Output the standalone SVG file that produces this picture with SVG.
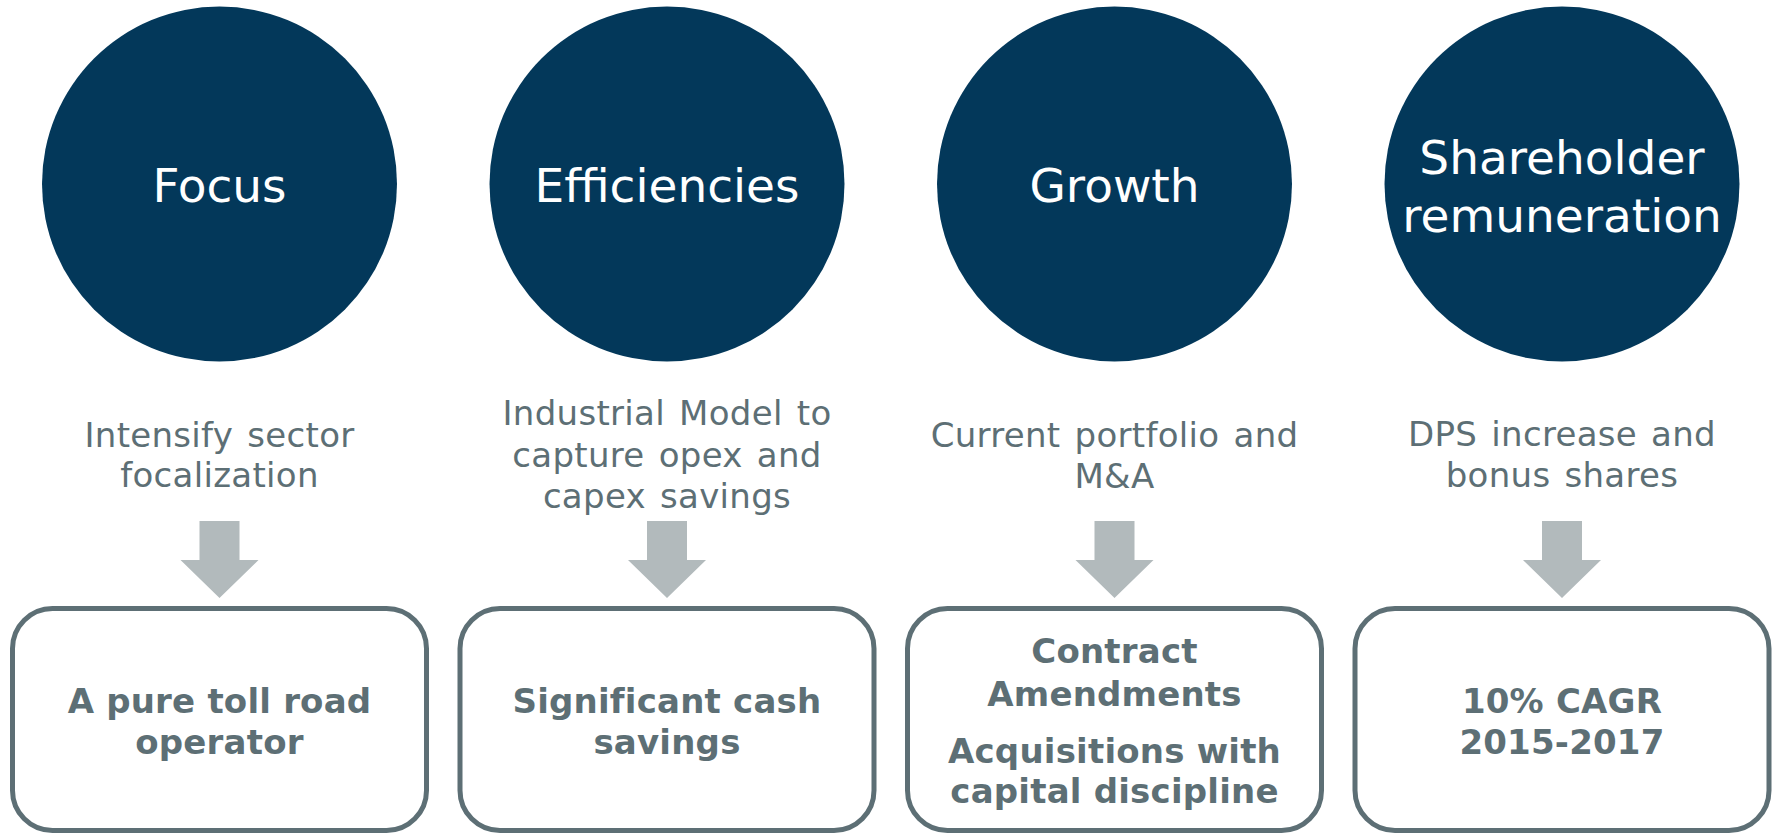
<svg xmlns="http://www.w3.org/2000/svg" width="1775" height="833" viewBox="0 0 1775 833">
  <style>
    .circle { fill: #03385a; }
    .title { font-family: "DejaVu Sans", Verdana, sans-serif; font-size: 47px; fill: #ffffff; text-anchor: middle; }
    .sub { font-family: "DejaVu Sans", Verdana, sans-serif; font-size: 34px; letter-spacing: 0.3px; word-spacing: 3px; fill: #5d6f75; text-anchor: middle; }
    .box { fill: #ffffff; stroke: #5d6f75; stroke-width: 5; }
    .boxtext { font-family: "DejaVu Sans", Verdana, sans-serif; font-size: 34px; font-weight: bold; letter-spacing: 0.2px; fill: #5d6f75; text-anchor: middle; }
    .arrow { fill: #b2babc; }
  </style>

  <rect width="1775" height="833" fill="#ffffff"/>

  <!-- Column 1: Focus -->
  <g id="focus">
    <circle class="circle" cx="219.5" cy="184" r="177.5"/>
    <text class="title" x="219.5" y="202">Focus</text>
    <text class="sub" x="219.5" y="447">Intensify sector</text>
    <text class="sub" x="219.5" y="487">focalization</text>
  </g>
  <g id="focus-result">
    <rect class="box" x="12.5" y="608.5" width="414" height="222" rx="40"/>
    <text class="boxtext" x="219.5" y="713">A pure toll road</text>
    <text class="boxtext" x="219.5" y="754">operator</text>
  </g>

  <!-- Column 2: Efficiencies -->
  <g id="efficiencies">
    <circle class="circle" cx="667" cy="184" r="177.5"/>
    <text class="title" x="667" y="202">Efficiencies</text>
    <text class="sub" x="667" y="425">Industrial Model to</text>
    <text class="sub" x="667" y="467">capture opex and</text>
    <text class="sub" x="667" y="508">capex savings</text>
  </g>
  <g id="efficiencies-result">
    <rect class="box" x="460" y="608.5" width="414" height="222" rx="40"/>
    <text class="boxtext" x="667" y="713">Significant cash</text>
    <text class="boxtext" x="667" y="754">savings</text>
  </g>

  <!-- Column 3: Growth -->
  <g id="growth">
    <circle class="circle" cx="1114.5" cy="184" r="177.5"/>
    <text class="title" x="1114.5" y="202">Growth</text>
    <text class="sub" x="1114.5" y="447">Current portfolio and</text>
    <text class="sub" x="1114.5" y="488">M&amp;A</text>
  </g>
  <g id="growth-result">
    <rect class="box" x="907.5" y="608.5" width="414" height="222" rx="40"/>
    <text class="boxtext" x="1114.5" y="663">Contract</text>
    <text class="boxtext" x="1114.5" y="706">Amendments</text>
    <text class="boxtext" x="1114.5" y="763">Acquisitions with</text>
    <text class="boxtext" x="1114.5" y="803">capital discipline</text>
  </g>

  <!-- Column 4: Shareholder remuneration -->
  <g id="shareholder">
    <circle class="circle" cx="1562" cy="184" r="177.5"/>
    <text class="title" x="1562" y="174">Shareholder</text>
    <text class="title" x="1562" y="232">remuneration</text>
    <text class="sub" x="1562" y="446">DPS increase and</text>
    <text class="sub" x="1562" y="487">bonus shares</text>
  </g>
  <g id="shareholder-result">
    <rect class="box" x="1355" y="608.5" width="414" height="222" rx="40"/>
    <text class="boxtext" x="1562" y="713">10% CAGR</text>
    <text class="boxtext" x="1562" y="754">2015-2017</text>
  </g>

  <!-- Block arrows leading from each driver to its outcome -->
  <g id="connectors">
    <polygon class="arrow" points="199.5,521 239.5,521 239.5,560 258.5,560 219.5,598 180.5,560 199.5,560"/>
    <polygon class="arrow" points="647,521 687,521 687,560 706,560 667,598 628,560 647,560"/>
    <polygon class="arrow" points="1094.5,521 1134.5,521 1134.5,560 1153.5,560 1114.5,598 1075.5,560 1094.5,560"/>
    <polygon class="arrow" points="1542,521 1582,521 1582,560 1601,560 1562,598 1523,560 1542,560"/>
  </g>
</svg>
